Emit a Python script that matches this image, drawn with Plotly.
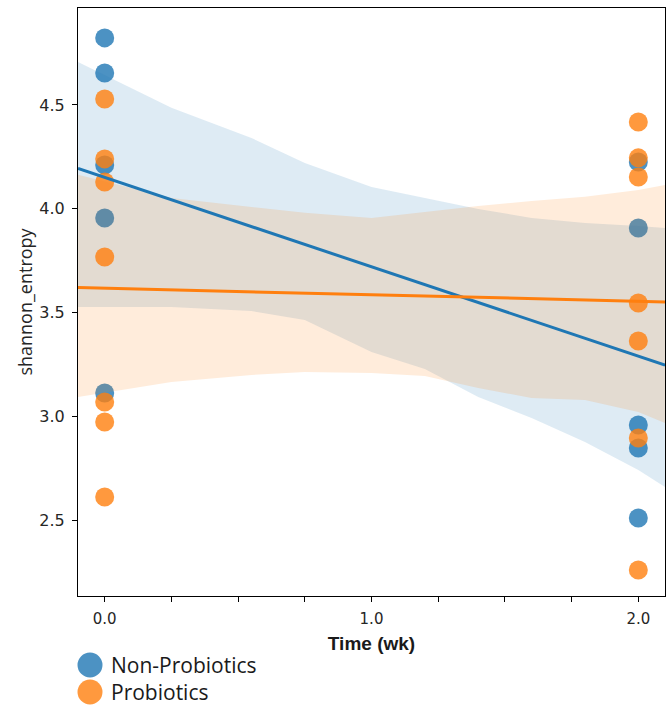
import numpy as np
import plotly.graph_objects as go

# ---- data ----
groups = ["Non-Probiotics", "Probiotics"]
colors = {"Non-Probiotics": "#1f77b4", "Probiotics": "#ff7f0e"}

non_x = [0, 0, 0, 0, 0, 2, 2, 2, 2, 2]
non_y = [4.823, 4.654, 4.211, 3.955, 3.112, 4.225, 3.907, 2.958, 2.847, 2.510]

pro_x = [0, 0, 0, 0, 0, 0, 0, 2, 2, 2, 2, 2, 2, 2]
pro_y = [4.529, 4.240, 4.129, 3.767, 3.069, 2.972, 2.611,
         4.418, 4.245, 4.153, 3.546, 3.363, 2.895, 2.259]

# confidence band edges
band_x = [-0.1, 0.25, 0.55, 0.75, 1.0, 1.2, 1.4, 1.6, 1.8, 2.0, 2.1]
non_upper = [4.707, 4.486, 4.341, 4.220, 4.105, 4.052, 3.999, 3.955, 3.931, 3.917, 3.907]
non_lower = [3.527, 3.527, 3.507, 3.464, 3.310, 3.228, 3.093, 2.992, 2.876, 2.741, 2.659]
pro_upper = [4.163, 4.052, 4.008, 3.980, 3.955, 3.984, 4.013, 4.037, 4.057, 4.090, 4.114]
pro_lower = [3.093, 3.165, 3.199, 3.213, 3.208, 3.194, 3.136, 3.088, 3.078, 3.020, 2.967]

x_tick_vals = [0, 0.25, 0.5, 0.75, 1.0, 1.25, 1.5, 1.75, 2.0]
x_tick_text = ["0.0", "", "", "", "1.0", "", "", "", "2.0"]
y_tick_vals = [2.5, 3.0, 3.5, 4.0, 4.5]
y_tick_text = ["2.5", "3.0", "3.5", "4.0", "4.5"]

series = {
    "Non-Probiotics": (non_x, non_y, non_upper, non_lower),
    "Probiotics": (pro_x, pro_y, pro_upper, pro_lower),
}

def rgba(hexc, a):
    h = hexc.lstrip("#")
    r, g, b = int(h[0:2], 16), int(h[2:4], 16), int(h[4:6], 16)
    return f"rgba({r},{g},{b},{a})"

W, H = 671, 707
ML, MR, MT, MB = 78, 6, 8, 111
PW, PH = W - ML - MR, H - MT - MB

fig = go.Figure()

# scatter + bands (matplotlib zorder 1 collections, in add order)
for name in groups:
    xs, ys, up, lo = series[name]
    c = colors[name]
    fig.add_trace(go.Scatter(
        x=xs, y=ys, mode="markers", name=name,
        marker=dict(size=19, color=rgba(c, 0.8), line=dict(width=0)),
        showlegend=False,
    ))
    fig.add_trace(go.Scatter(
        x=band_x + band_x[::-1], y=up + lo[::-1],
        fill="toself", fillcolor=rgba(c, 0.15),
        line=dict(width=0), mode="lines", hoverinfo="skip", showlegend=False,
    ))

# regression lines on top
for name in groups:
    xs, ys, up, lo = series[name]
    slope, intercept = np.polyfit(xs, ys, 1)
    gx = np.array([band_x[0], band_x[-1]])
    fig.add_trace(go.Scatter(
        x=gx, y=intercept + slope * gx, mode="lines",
        line=dict(color=colors[name], width=3), showlegend=False, hoverinfo="skip",
    ))

# legend below the plot (large circle markers + labels)
shapes, annotations = [], []
for i, name in enumerate(groups):
    cy_px = 665 + i * 27
    py = -(cy_px - (H - MB)) / PH
    px_c = (90 - ML) / PW
    shapes.append(dict(
        type="circle", xref="paper", yref="paper",
        xsizemode="pixel", ysizemode="pixel",
        xanchor=px_c, yanchor=py,
        x0=-12.5, x1=12.5, y0=-12.5, y1=12.5,
        fillcolor=rgba(colors[name], 0.8), line=dict(width=0),
    ))
    annotations.append(dict(
        text=name, xref="paper", yref="paper",
        x=(110 - ML) / PW, y=py, xanchor="left", yanchor="middle",
        showarrow=False, borderpad=0, font=dict(size=21, color="#1a1a1a",
                                   family="Open Sans, sans-serif"),
    ))

fig.update_layout(
    width=W, height=H,
    margin=dict(l=ML, r=MR, t=MT, b=MB, autoexpand=False),
    plot_bgcolor="white", paper_bgcolor="white",
    font=dict(family="DejaVu Sans, sans-serif", color="#222222", size=15),
    showlegend=False,
    shapes=shapes, annotations=annotations,
    xaxis=dict(
        range=[-0.1, 2.1], showgrid=False, zeroline=False,
        showline=True, linecolor="black", linewidth=1, mirror=True,
        ticks="outside", ticklen=5, tickcolor="black",
        tickvals=x_tick_vals, ticktext=x_tick_text, ticklabelstandoff=4,
        tickfont=dict(size=15, color="#262626", family="DejaVu Sans, sans-serif"),
        title=dict(text="<b>Time (wk)</b>", standoff=9,
                   font=dict(size=19, family="Liberation Sans, Arial, sans-serif", color="#1a1a1a")),
    ),
    yaxis=dict(
        range=[2.134, 4.967], showgrid=False, zeroline=False,
        showline=True, linecolor="black", linewidth=1, mirror=True,
        ticks="outside", ticklen=5, tickcolor="black",
        tickvals=y_tick_vals, ticktext=y_tick_text, ticklabelstandoff=4,
        tickfont=dict(size=16, color="#262626", family="DejaVu Sans, sans-serif"),
        title=dict(text="shannon_entropy", standoff=2,
                   font=dict(size=18, color="#262626", family="Open Sans, sans-serif")),
    ),
)

fig.write_html("out.html", config={"displayModeBar": False},
               post_script="document.body.style.margin='0px';")
